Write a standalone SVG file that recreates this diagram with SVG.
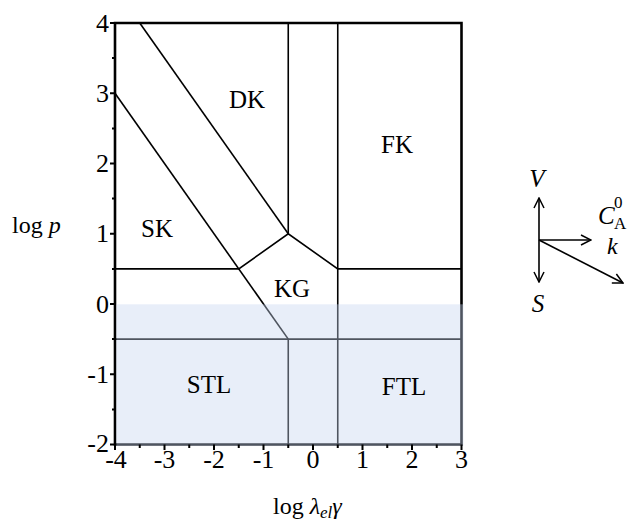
<svg xmlns="http://www.w3.org/2000/svg" width="628" height="522" viewBox="0 0 628 522" font-family="'Liberation Serif', 'Times New Roman', 'DejaVu Serif', serif">
<defs>
<style>
text{font-family:"Liberation Serif","Times New Roman","DejaVu Serif",serif;fill:#000}
.tl{font-size:26px}
.lab{font-size:25px;text-anchor:middle}
.it{font-style:italic}
.b{stroke:#000;stroke-width:1.6;fill:none}
.fr{stroke:#000;stroke-width:2.6;fill:none}
.tk{stroke:#000;stroke-width:2;fill:none}
.ar{stroke:#000;stroke-width:1.6;fill:none}
</style>
<marker id="ah" viewBox="0 0 12 12" refX="11" refY="6" markerWidth="12" markerHeight="12" markerUnits="userSpaceOnUse" orient="auto-start-reverse">
<path d="M1,1 L11,6 L1,11" fill="none" stroke="#000" stroke-width="1.5"/>
</marker>
</defs>
<rect width="628" height="522" fill="#fff"/>
<g id="connectors">
<path class="b" d="M139.75,23 L288.25,233.75"/>
<path class="b" d="M115,93.25 L288.25,339.1"/>
<path class="b" d="M115,268.9 L238.75,268.9 L288.25,233.75 L337.75,268.9 L461.5,268.9"/>
<path class="b" d="M288.25,23 V233.75"/>
<path class="b" d="M337.75,23 V444.5"/>
<path class="b" d="M288.25,339.1 V444.5"/>
<path class="b" d="M115,339.1 H461.5"/>
<path class="fr" d="M115,23 H461.5 V444.5 H115 Z"/>
</g>
<rect id="shade" x="116.4" y="304.3" width="347" height="141.6" fill="#c5d5ef" opacity="0.4"/>
<g id="axes">
<path class="tk" d="M110,23 H115 M110,93.25 H115 M110,163.5 H115 M110,233.75 H115 M110,304 H115 M110,374.25 H115 M110,444.5 H115"/>
<path class="tk" d="M112,58.1 H115 M112,128.4 H115 M112,198.6 H115 M112,268.9 H115 M112,339.1 H115 M112,409.4 H115"/>
<path class="tk" d="M115,444.5 V450 M164.5,444.5 V450 M214,444.5 V450 M263.5,444.5 V450 M313,444.5 V450 M362.5,444.5 V450 M412,444.5 V450 M461.5,444.5 V450"/>
<path class="tk" d="M139.75,444.5 V448 M189.25,444.5 V448 M238.75,444.5 V448 M288.25,444.5 V448 M337.75,444.5 V448 M387.25,444.5 V448 M436.75,444.5 V448"/>
<g class="tl" text-anchor="end">
<text x="109" y="31.5">4</text>
<text x="109" y="101.7">3</text>
<text x="109" y="172">2</text>
<text x="109" y="242.2">1</text>
<text x="109" y="312.5">0</text>
<text x="109" y="382.7">-1</text>
<text x="109" y="452">-2</text>
</g>
<g class="tl" text-anchor="middle">
<text x="116" y="468">-4</text>
<text x="164.5" y="468">-3</text>
<text x="214" y="468">-2</text>
<text x="263.5" y="468">-1</text>
<text x="313" y="468">0</text>
<text x="362.5" y="468">1</text>
<text x="412" y="468">2</text>
<text x="461.5" y="468">3</text>
</g>
<text x="12" y="233" font-size="24">log <tspan class="it">p</tspan></text>
<text x="273" y="514" font-size="24">log <tspan class="it">λ</tspan><tspan class="it" font-size="17" dy="4">el</tspan><tspan class="it" dy="-4">γ</tspan></text>
</g>
<g id="DK"><text class="lab" x="247" y="108.3">DK</text></g>
<g id="FK"><text class="lab" x="397" y="153">FK</text></g>
<g id="SK"><text class="lab" x="157" y="237">SK</text></g>
<g id="KG"><text class="lab" x="292" y="296.7">KG</text></g>
<g id="STL"><text class="lab" x="209" y="393.3">STL</text></g>
<g id="FTL"><text class="lab" x="404" y="394.5">FTL</text></g>
<g id="vectors">
<line class="ar" x1="539" y1="240" x2="539" y2="198" marker-end="url(#ah)"/>
<line class="ar" x1="539" y1="240" x2="539" y2="282" marker-end="url(#ah)"/>
<line class="ar" x1="539" y1="240" x2="591" y2="240" marker-end="url(#ah)"/>
<line class="ar" x1="539" y1="240" x2="623" y2="283" marker-end="url(#ah)"/>
<text class="it" x="537" y="187" font-size="25" text-anchor="middle">V</text>
<text x="598" y="224" font-size="25"><tspan class="it">C</tspan></text>
<text x="614" y="208" font-size="17">0</text>
<text x="614" y="229" font-size="17">A</text>
<text class="it" x="607" y="254" font-size="24">k</text>
<text class="it" x="538" y="312" font-size="25" text-anchor="middle">S</text>
</g>
</svg>
